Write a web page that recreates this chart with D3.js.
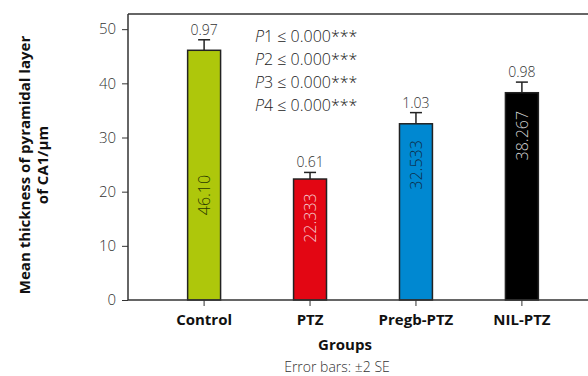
<!DOCTYPE html>
<html>
<head>
<meta charset="utf-8">
<script src="https://cdn.jsdelivr.net/npm/d3@7"></script>
<style>
  body { margin: 0; background: #fff; }
  svg { display: block; font-family: "Open Sans", "Noto Sans", sans-serif; }
</style>
</head>
<body>
<svg id="chart" width="588" height="376"></svg>
<script>
let groups = ['Control', 'PTZ', 'Pregb-PTZ', 'NIL-PTZ'];
let means = [46.10, 22.333, 32.533, 38.267];
let meanLabels = ['46.10', '22.333', '32.533', '38.267'];
let seValues = [0.97, 0.61, 1.03, 0.98];
let labelTop = [23.1, 19.7, 29.5, 34.9];
let barColors = ['#aec70b', '#e30613', '#0088d1', '#000000'];
let labelColors = ['#2b3a00', '#f5c8cc', '#0d2d4a', '#d0d0d0'];
let pLines = ['1', '2', '3', '4'];
let yTicks = [0, 10, 20, 30, 40, 50];

let svg = d3.select('#chart');
let margin = {left: 128, top: 14, right: 0, bottom: 76};
let width = 588, height = 376;

let x = d3.scaleBand()
    .domain(groups)
    .range([margin.left, 598])
    .paddingInner(0.689)
    .paddingOuter(0.563);

let y = d3.scaleLinear()
    .domain([0, 52.8])
    .range([height - margin.bottom, margin.top]);

// error bars first, so the lower half sits behind the bars
let err = svg.append('g')
    .attr('stroke', '#222')
    .attr('stroke-width', 1.5);

groups.forEach((g, i) => {
    let cx = x(g) + x.bandwidth() / 2;
    let hi = means[i] + 2 * seValues[i];
    err.append('line')
        .attr('x1', cx).attr('x2', cx)
        .attr('y1', y(means[i])).attr('y2', y(hi));
    err.append('line')
        .attr('x1', cx - 6).attr('x2', cx + 6)
        .attr('y1', y(hi)).attr('y2', y(hi));
});

// bars
svg.append('g')
    .selectAll('rect')
    .data(groups)
  .enter().append('rect')
    .attr('x', d => x(d))
    .attr('y', (d, i) => y(means[i]))
    .attr('width', x.bandwidth())
    .attr('height', (d, i) => y(0) - y(means[i]))
    .attr('fill', (d, i) => barColors[i])
    .attr('stroke', '#222')
    .attr('stroke-width', 1.5);

// SE labels above the error bars
svg.append('g')
    .selectAll('text')
    .data(groups)
  .enter().append('text')
    .attr('x', d => x(d) + x.bandwidth() / 2)
    .attr('y', (d, i) => y(means[i] + 2 * seValues[i]) - 5)
    .attr('text-anchor', 'middle')
    .attr('font-size', 14)
    .attr('font-weight', 300)
    .attr('fill', '#333')
    .text((d, i) => seValues[i].toFixed(2));

// mean labels inside the bars
svg.append('g')
    .selectAll('text')
    .data(groups)
  .enter().append('text')
    .attr('transform', (d, i) => 'translate(' + (x(d) + x.bandwidth() / 2 + 6) + ',' + y(labelTop[i]) + ') rotate(-90)')
    .attr('text-anchor', 'end')
    .attr('font-size', 16)
    .attr('font-weight', 300)
    .attr('fill', (d, i) => labelColors[i])
    .text((d, i) => meanLabels[i]);

// frame
let frame = svg.append('g').attr('stroke', '#333').attr('stroke-width', 1.5);
frame.append('line')
    .attr('x1', margin.left).attr('x2', width)
    .attr('y1', margin.top).attr('y2', margin.top);

// axes
let yAxis = svg.append('g')
    .attr('transform', 'translate(' + margin.left + ',0)')
    .call(d3.axisLeft(y).tickValues(yTicks).tickSize(6).tickPadding(6).tickSizeOuter(0));
yAxis.select('.domain').attr('stroke', '#333').attr('stroke-width', 1.5)
    .attr('d', 'M0,' + margin.top + 'V' + y(0));
yAxis.selectAll('.tick line').attr('stroke', '#333');
yAxis.selectAll('.tick text')
    .attr('font-size', 15)
    .attr('font-weight', 300)
    .attr('fill', '#333')
    .attr('font-family', '"Open Sans", sans-serif');

let xAxis = svg.append('g')
    .attr('transform', 'translate(0,' + y(0) + ')')
    .call(d3.axisBottom(x).tickSize(6).tickPadding(8).tickSizeOuter(0));
xAxis.select('.domain').attr('stroke', '#333').attr('stroke-width', 1.5)
    .attr('d', 'M' + margin.left + ',0H' + width);
xAxis.selectAll('.tick line').attr('stroke', '#333');
xAxis.selectAll('.tick text')
    .attr('font-size', 15)
    .attr('font-weight', 700)
    .attr('fill', '#111')
    .attr('font-family', '"Open Sans", sans-serif');

// axis titles
svg.append('text')
    .attr('x', 345)
    .attr('y', 350)
    .attr('text-anchor', 'middle')
    .attr('font-size', 15)
    .attr('font-weight', 700)
    .attr('fill', '#111')
    .text('Groups');

svg.append('text')
    .attr('x', 337)
    .attr('y', 372)
    .attr('text-anchor', 'middle')
    .attr('font-size', 14)
    .attr('font-weight', 300)
    .attr('fill', '#333')
    .text('Error bars: \u00b12 SE');

let yTitle = svg.append('text')
    .attr('transform', 'translate(30,165) rotate(-90)')
    .attr('text-anchor', 'middle')
    .attr('font-size', 15)
    .attr('font-weight', 700)
    .attr('fill', '#111');
yTitle.append('tspan').attr('x', 0).attr('dy', 0).text('Mean thickness of pyramidal layer');
yTitle.append('tspan').attr('x', 0).attr('dy', 18).text('of CA1/\u00b5m');

// p-value annotation
let pText = svg.append('g');
pLines.forEach((n, i) => {
    let t = pText.append('text')
        .attr('x', 255)
        .attr('y', 42 + i * 23)
        .attr('font-size', 16)
        .attr('font-weight', 300)
        .attr('fill', '#222');
    t.append('tspan').attr('font-style', 'italic').text('P');
    t.append('tspan').text(n + ' \u2264 0.000***');
});
</script>
</body>
</html>
